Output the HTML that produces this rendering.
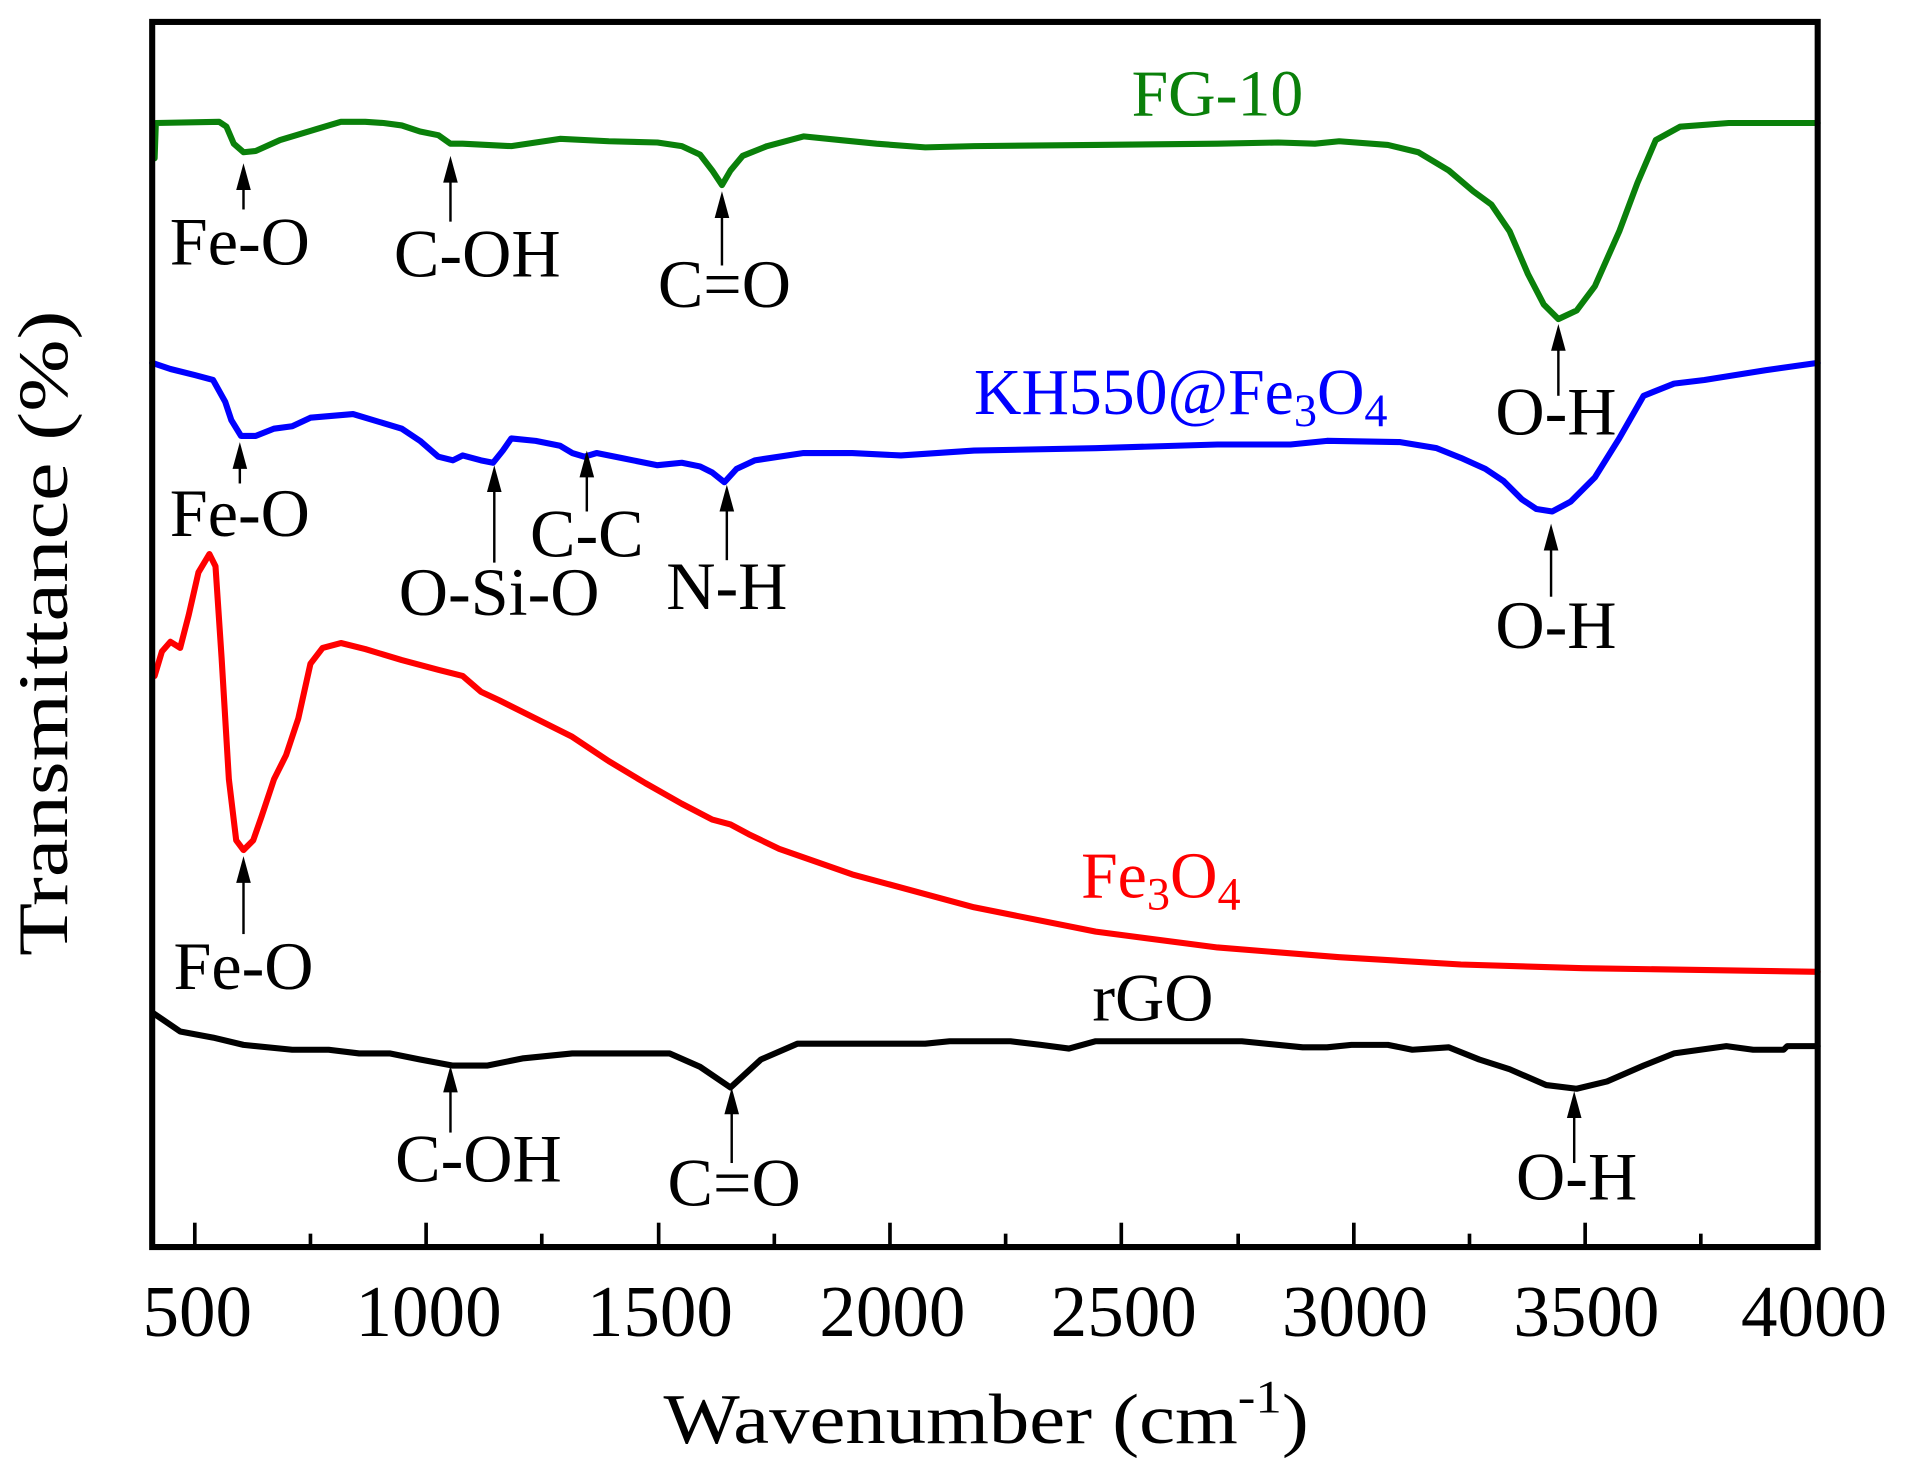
<!DOCTYPE html>
<html><head><meta charset="utf-8"><style>html,body{margin:0;padding:0;background:#fff}svg{display:block}</style></head>
<body>
<svg width="1909" height="1476" viewBox="0 0 1568 1212" preserveAspectRatio="none" xmlns="http://www.w3.org/2000/svg" font-family="Liberation Serif, serif">
<rect x="0" y="0" width="1568" height="1212" fill="#fff"/>
<g fill="none" stroke-width="5" stroke-linejoin="round" stroke-linecap="round">
<polyline stroke="#0a800a" points="127,130 128,101 180,100 186,104 192,118 200,125 210,124 230,115 260,106 280,100 300,100 315,101 330,103 345,108 360,111 370,118 380,118 420,120 440,117 460,114 500,116 540,117 560,120 575,127 585,140 593,152 600,140 610,128 630,120 660,112 690,115 720,118 760,121 800,120 900,119 1000,118 1050,117 1080,118 1100,116 1140,119 1165,125 1190,140 1210,157 1225,168 1240,190 1255,225 1268,250 1280,262 1295,255 1310,235 1330,190 1345,150 1360,115 1380,104 1420,101 1493,101"/>
<polyline stroke="#0000ff" points="125,298 140,303 160,308 175,312 185,330 190,345 198,358 210,358 225,352 240,350 255,343 290,340 310,346 330,352 345,362 360,375 372,378 380,374 395,378 405,380 413,370 420,360 440,362 460,366 470,372 480,375 490,372 510,376 540,382 560,380 575,383 585,388 595,396 605,385 620,378 660,372 700,372 740,374 800,370 900,368 1000,365 1060,365 1090,362 1150,363 1180,368 1200,376 1220,385 1235,395 1250,410 1262,418 1275,420 1290,412 1310,392 1330,360 1350,325 1375,315 1400,312 1450,304 1493,298"/>
<polyline stroke="#ff0000" points="127,555 133,535 140,527 148,532 155,505 163,470 172,455 177,465 182,540 188,640 194,690 200,698 208,690 215,670 225,640 235,620 245,590 255,545 265,532 280,528 300,533 330,542 360,550 380,555 395,568 410,575 440,590 470,605 500,625 530,643 560,660 585,673 600,677 615,685 640,697 700,718 800,745 900,765 1000,778 1100,786 1200,792 1300,795 1493,798"/>
<polyline stroke="#000" points="126,832 148,847 175,852 200,858 240,862 270,862 295,865 320,865 345,870 372,875 400,875 430,869 470,865 500,865 550,865 575,876 600,893 625,870 655,857 700,857 760,857 780,855 830,855 855,858 878,861 900,855 1020,855 1070,860 1090,860 1110,858 1140,858 1160,862 1190,860 1215,870 1240,878 1270,891 1295,894 1320,888 1350,875 1375,865 1418,859 1440,862 1465,862 1468,859 1493,859"/>
</g>
<rect x="125" y="18" width="1368" height="1006" fill="none" stroke="#000" stroke-width="5"/>
<g stroke="#000" stroke-width="3">
<line x1="160" y1="1024" x2="160" y2="1004"/><line x1="255" y1="1024" x2="255" y2="1013"/>
<line x1="350" y1="1024" x2="350" y2="1004"/><line x1="445" y1="1024" x2="445" y2="1013"/>
<line x1="541" y1="1024" x2="541" y2="1004"/><line x1="636" y1="1024" x2="636" y2="1013"/>
<line x1="731" y1="1024" x2="731" y2="1004"/><line x1="826" y1="1024" x2="826" y2="1013"/>
<line x1="921" y1="1024" x2="921" y2="1004"/><line x1="1017" y1="1024" x2="1017" y2="1013"/>
<line x1="1112" y1="1024" x2="1112" y2="1004"/><line x1="1207" y1="1024" x2="1207" y2="1013"/>
<line x1="1302" y1="1024" x2="1302" y2="1004"/><line x1="1397" y1="1024" x2="1397" y2="1013"/>
</g>
<g font-size="60" text-anchor="middle" fill="#000">
<text x="162" y="1097">500</text><text x="352" y="1097">1000</text><text x="542" y="1097">1500</text><text x="733" y="1097">2000</text><text x="923" y="1097">2500</text><text x="1113" y="1097">3000</text><text x="1303" y="1097">3500</text><text x="1490" y="1097">4000</text>
</g>
<text x="545" y="1185" font-size="58" textLength="530" lengthAdjust="spacingAndGlyphs">Wavenumber (cm<tspan dy="-25" font-size="38">-1</tspan><tspan dy="25">)</tspan></text>
<text transform="translate(55,520) rotate(-90)" font-size="58" text-anchor="middle" textLength="530" lengthAdjust="spacingAndGlyphs">Transmittance (%)</text>
<g stroke="#000" stroke-width="2">
<line x1="200" y1="172" x2="200" y2="150"/><line x1="370" y1="182" x2="370" y2="145"/><line x1="593" y1="218" x2="593" y2="175"/><line x1="1280" y1="325" x2="1280" y2="285"/>
<line x1="197" y1="397" x2="197" y2="380"/><line x1="406" y1="462" x2="406" y2="400"/><line x1="482" y1="420" x2="482" y2="388"/><line x1="597" y1="460" x2="597" y2="415"/><line x1="1274" y1="490" x2="1274" y2="450"/>
<line x1="200" y1="767" x2="200" y2="720"/>
<line x1="370" y1="930" x2="370" y2="893"/><line x1="601" y1="955" x2="601" y2="912"/><line x1="1293" y1="955" x2="1293" y2="915"/>
</g>
<g fill="#000">
<polygon points="194,156 200,134 206,156"/><polygon points="364,150 370,128 376,150"/><polygon points="587,179 593,157 599,179"/><polygon points="1274,288 1280,266 1286,288"/>
<polygon points="191,385 197,363 203,385"/><polygon points="400,404 406,382 412,404"/><polygon points="476,392 482,370 488,392"/><polygon points="591,420 597,398 603,420"/><polygon points="1268,452 1274,430 1280,452"/>
<polygon points="194,725 200,703 206,725"/>
<polygon points="364,897 370,875 376,897"/><polygon points="595,915 601,893 607,915"/><polygon points="1287,918 1293,896 1299,918"/>
</g>
<g font-size="56" text-anchor="middle" fill="#000">
<text x="197" y="217">Fe-O</text><text x="392" y="227">C-OH</text><text x="595" y="252">C=O</text><text x="1278" y="357">O-H</text>
<text x="197" y="440">Fe-O</text><text x="410" y="505">O-Si-O</text><text x="482" y="457">C-C</text><text x="597" y="500">N-H</text><text x="1278" y="532">O-H</text>
<text x="200" y="812">Fe-O</text>
<text x="947" y="838">rGO</text>
<text x="393" y="970">C-OH</text><text x="603" y="990">C=O</text><text x="1295" y="985">O-H</text>
</g>
<text x="1000" y="95" font-size="54" text-anchor="middle" fill="#0a800a">FG-10</text>
<text x="800" y="340" font-size="54" fill="#0000ff">KH550@Fe<tspan dy="10" font-size="38">3</tspan><tspan dy="-10">O</tspan><tspan dy="10" font-size="38">4</tspan></text>
<text x="888" y="737" font-size="54" fill="#ff0000">Fe<tspan dy="10" font-size="38">3</tspan><tspan dy="-10">O</tspan><tspan dy="10" font-size="38">4</tspan></text>
</svg>
</body></html>
